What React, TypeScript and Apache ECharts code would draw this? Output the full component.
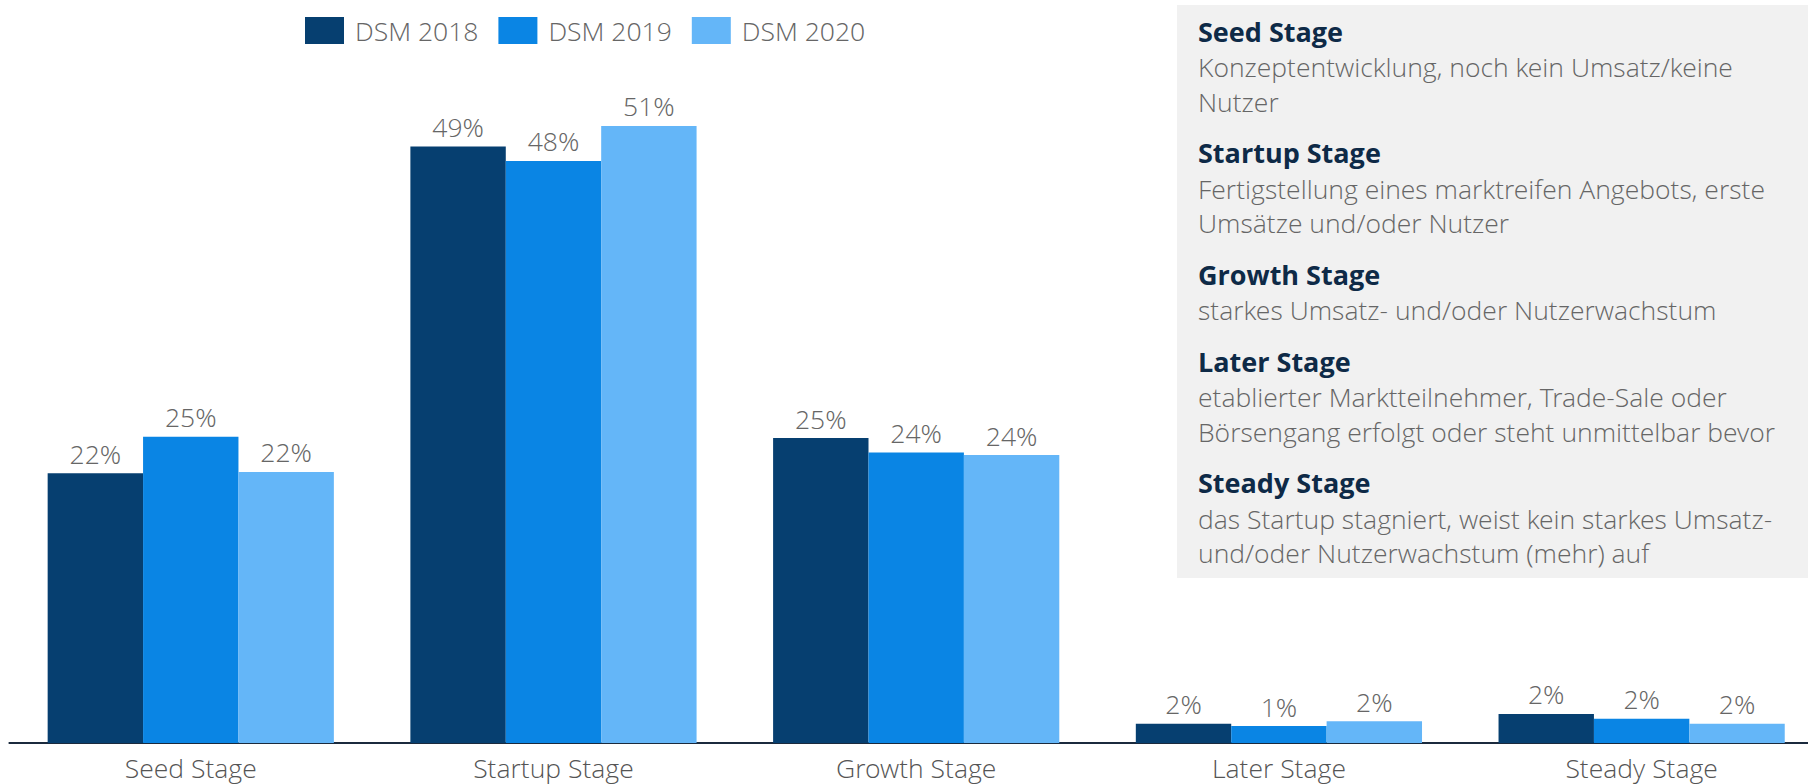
import React, { useEffect, useRef } from "react";
import * as echarts from "echarts";

const categories = ["Seed Stage", "Startup Stage", "Growth Stage", "Later Stage", "Steady Stage"];
const seriesNames = ["DSM 2018", "DSM 2019", "DSM 2020"];
const dsm2018 = [22.3, 49.3, 25.2, 1.6, 2.4];
const dsm2019 = [25.3, 48.1, 24.0, 1.4, 2.0];
const dsm2020 = [22.4, 51.0, 23.8, 1.8, 1.6];
const seriesColors = ["#063f70", "#0a85e4", "#64b6f8"];

const stageTitles = ["Seed Stage", "Startup Stage", "Growth Stage", "Later Stage", "Steady Stage"];
const stageDescriptions = [
  ["Konzeptentwicklung, noch kein Umsatz/keine", "Nutzer"],
  ["Fertigstellung eines marktreifen Angebots, erste", "Umsätze und/oder Nutzer"],
  ["starkes Umsatz- und/oder Nutzerwachstum"],
  ["etablierter Marktteilnehmer, Trade-Sale oder", "Börsengang erfolgt oder steht unmittelbar bevor"],
  ["das Startup stagniert, weist kein starkes Umsatz-", "und/oder Nutzerwachstum (mehr) auf"],
];

const FONT = "'Open Sans Light', 'Open Sans', 'Noto Sans', sans-serif";
const BOLD_FONT = "'Open Sans', 'Noto Sans', sans-serif";

export default function App() {
  const ref = useRef<HTMLDivElement>(null);

  useEffect(() => {
    document.body.style.margin = "0";
    document.body.style.overflow = "hidden";
    if (!ref.current) return;
    const chart = echarts.init(ref.current, null, { renderer: "svg" });

    const panelElements: any[] = [
      {
        type: "rect",
        shape: { x: 1177, y: 5, width: 660, height: 573 },
        style: { fill: "#f1f1f1" },
        silent: true,
      },
    ];
    let y = 31;
    stageTitles.forEach((title, i) => {
      panelElements.push({
        type: "text",
        x: 1198,
        y,
        style: {
          text: title,
          fill: "#0e2a47",
          font: `700 27px ${BOLD_FONT}`,
          textVerticalAlign: "middle",
        },
      });
      let ly = y + 36;
      stageDescriptions[i].forEach((line, j) => {
        panelElements.push({
          type: "text",
          x: 1198,
          y: ly,
          style: {
            text: line,
            fill: "#666666",
            font: `300 26.5px ${FONT}`,
            textVerticalAlign: "middle",
          },
        });
        if (j < stageDescriptions[i].length - 1) ly += 34.5;
      });
      y = ly + 51;
    });

    const dataSets = [dsm2018, dsm2019, dsm2020];

    chart.setOption({
      animation: false,
      textStyle: { fontFamily: FONT },
      legend: {
        left: 300,
        top: 12,
        itemWidth: 39,
        itemHeight: 27,
        itemGap: 20,
        icon: "rect",
        data: seriesNames,
        textStyle: {
          fontFamily: FONT,
          fontWeight: 300,
          fontSize: 26.5,
          color: "#666",
          padding: [0, 0, 0, 6],
        },
      },
      grid: { left: 9.4, right: 0, top: 17, bottom: 41 },
      xAxis: {
        type: "category",
        data: categories,
        axisLine: { show: true, lineStyle: { color: "#1b2a3d", width: 2 } },
        axisTick: { show: false },
        axisLabel: {
          fontFamily: FONT,
          fontWeight: 300,
          fontSize: 26.5,
          color: "#555",
          margin: 11,
        },
      },
      yAxis: { type: "value", min: 0, max: 60, show: false, splitLine: { show: false } },
      series: seriesNames.map((name, i) => ({
        name,
        type: "bar",
        data: dataSets[i],
        barWidth: 95.4,
        barGap: "0%",
        itemStyle: { color: seriesColors[i] },
        label: {
          show: true,
          position: "top",
          distance: 6,
          formatter: (p: any) => `${Math.round(p.value)}%`,
          fontFamily: FONT,
          fontWeight: 300,
          fontSize: 26.5,
          color: "#666",
        },
      })),
      graphic: { elements: panelElements },
    });

    return () => chart.dispose();
  }, []);

  return <div ref={ref} style={{ width: 1823, height: 784 }} />;
}
